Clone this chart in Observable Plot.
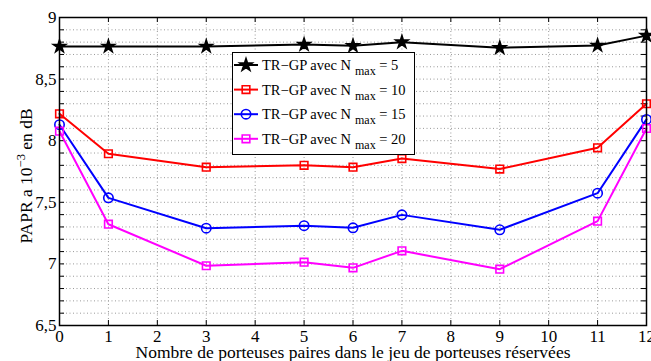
<!DOCTYPE html>
<html><head><meta charset="utf-8">
<script src="https://cdn.jsdelivr.net/npm/d3@7"></script>
<script src="https://cdn.jsdelivr.net/npm/@observablehq/plot@0.6"></script>
<style>body{margin:0;background:#fff} svg{display:block}</style>
</head><body><div id="chart"></div>
<script>
// ---- data ----
const xValues = [0, 1, 3, 5, 6, 7, 9, 11, 12];
const nmax5  = [8.765, 8.765, 8.765, 8.78, 8.77, 8.80, 8.754, 8.773, 8.853];
const nmax10 = [8.218, 7.894, 7.785, 7.80, 7.785, 7.855, 7.77, 7.942, 8.30];
const nmax15 = [8.13, 7.536, 7.29, 7.31, 7.293, 7.398, 7.277, 7.574, 8.173];
const nmax20 = [8.077, 7.322, 6.985, 7.014, 6.968, 7.106, 6.957, 7.347, 8.099];
const seriesValues = [nmax5, nmax10, nmax15, nmax20];
const seriesNmax = ["5", "10", "15", "20"];
const seriesColors = ["#000000", "#ff0000", "#0000ff", "#ff00ff"];
const seriesSymbols = ["star", "square", "circle", "square"];
const seriesR = [3.9, 4.3, 4.7, 4.3];
const xTicks = [0,1,2,3,4,5,6,7,8,9,10,11,12];
const yTicks = [6.5, 7, 7.5, 8, 8.5, 9];
const yMinorTicks = [6.5,6.6,6.7,6.8,6.9,7,7.1,7.2,7.3,7.4,7.5,7.6,7.7,7.8,7.9,8,8.1,8.2,8.3,8.4,8.5,8.6,8.7,8.8,8.9,9];
const xLabel = "Nombre de porteuses paires dans le jeu de porteuses réservées";
const legendPrefix = "TR\u2212GP avec N";
const legendSub = "max";

// ---- layout ----
const W = 651, H = 361, mL = 59, mR = 5, mT = 17, mB = 36;
const innerW = W - mL - mR, innerH = H - mT - mB;

const seriesMarks = seriesValues.flatMap((vals, i) => {
  const rows = xValues.map((x, j) => ({x, y: vals[j]}));
  return [
    Plot.line(rows, {x: "x", y: "y", stroke: seriesColors[i], strokeWidth: 2}),
    Plot.dot(rows, {x: "x", y: "y", symbol: seriesSymbols[i], r: seriesR[i],
      stroke: seriesColors[i], strokeWidth: 1.6,
      fill: i === 0 ? seriesColors[i] : "none"})
  ];
});

const chart = Plot.plot({
  width: W, height: H,
  marginLeft: mL, marginRight: mR, marginTop: mT, marginBottom: mB,
  style: {fontFamily: "'Liberation Serif', 'Times New Roman', serif", fontSize: "17px", color: "#000", background: "#fff"},
  x: {domain: [0, 12]},
  y: {domain: [6.5, 9]},
  marks: [
    Plot.gridX(xTicks, {stroke: "#999", strokeOpacity: 1, strokeDasharray: "1,2.5"}),
    Plot.gridY(yMinorTicks, {stroke: "#999", strokeOpacity: 1, strokeDasharray: "1,2.5"}),
    Plot.tickY(yMinorTicks, {y: d => d, insetRight: innerW - 5, stroke: "#000"}),
    Plot.tickY(yMinorTicks, {y: d => d, insetLeft: innerW - 5, stroke: "#000"}),
    Plot.tickX(xTicks, {x: d => d, insetTop: innerH - 5, stroke: "#000"}),
    Plot.tickX(xTicks, {x: d => d, insetBottom: innerH - 5, stroke: "#000"}),
    Plot.axisX(xTicks, {tickSize: 0, tickPadding: 4, fontSize: 17,
      label: xLabel, labelAnchor: "center", labelArrow: "none", labelOffset: 32.5}),
    Plot.axisY(yTicks, {tickSize: 0, tickPadding: 3, fontSize: 17,
      tickFormat: d => String(d).replace(".", ","), label: null}),
    ...seriesMarks,
    Plot.frame({stroke: "#000", strokeWidth: 1.5})
  ]
});
document.getElementById("chart").appendChild(chart);
// slightly larger axis label to match the reference
d3.select(chart).selectAll("g[aria-label='x-axis label'] text").attr("font-size", 17.5);

// ---- y label with superscript ----
const svg = d3.select(chart);
const yl = svg.append("text")
  .attr("transform", "translate(32,176) rotate(-90)")
  .attr("text-anchor", "middle")
  .attr("font-family", "'Liberation Serif', serif")
  .attr("font-size", 17.5)
  .attr("fill", "#000");
yl.append("tspan").text("PAPR a 10");
yl.append("tspan").attr("dy", -7).attr("font-size", 12.5).text("\u22123");
yl.append("tspan").attr("dy", 7).text(" en dB");

// ---- legend ----
const lg = svg.append("g").attr("font-family", "'Liberation Serif', serif")
  .attr("fill", "#000").attr("text-anchor", "start");
lg.append("rect").attr("x", 232.5).attr("y", 52.5).attr("width", 182).attr("height", 102)
  .attr("fill", "#fff").attr("stroke", "#000").attr("stroke-width", 1);
const symMap = {star: d3.symbolStar, square: d3.symbolSquare, circle: d3.symbolCircle};
seriesNmax.forEach((n, i) => {
  const cy = 65 + i * 24.6;
  lg.append("line").attr("x1", 234).attr("x2", 258).attr("y1", cy).attr("y2", cy)
    .attr("stroke", seriesColors[i]).attr("stroke-width", 2);
  lg.append("path")
    .attr("d", d3.symbol(symMap[seriesSymbols[i]], Math.PI * seriesR[i] ** 2)())
    .attr("transform", `translate(246,${cy})`)
    .attr("stroke", seriesColors[i]).attr("stroke-width", 1.6)
    .attr("fill", i === 0 ? seriesColors[i] : "none");
  const t = lg.append("text").attr("x", 262).attr("y", cy + 5)
    .attr("font-size", 14.5).attr("text-anchor", "start");
  t.append("tspan").text(legendPrefix);
  t.append("tspan").attr("dx", 4).attr("dy", 5).attr("font-size", 12).text(legendSub);
  t.append("tspan").attr("dy", -5).text(" = " + n);
});
</script>
</body></html>
